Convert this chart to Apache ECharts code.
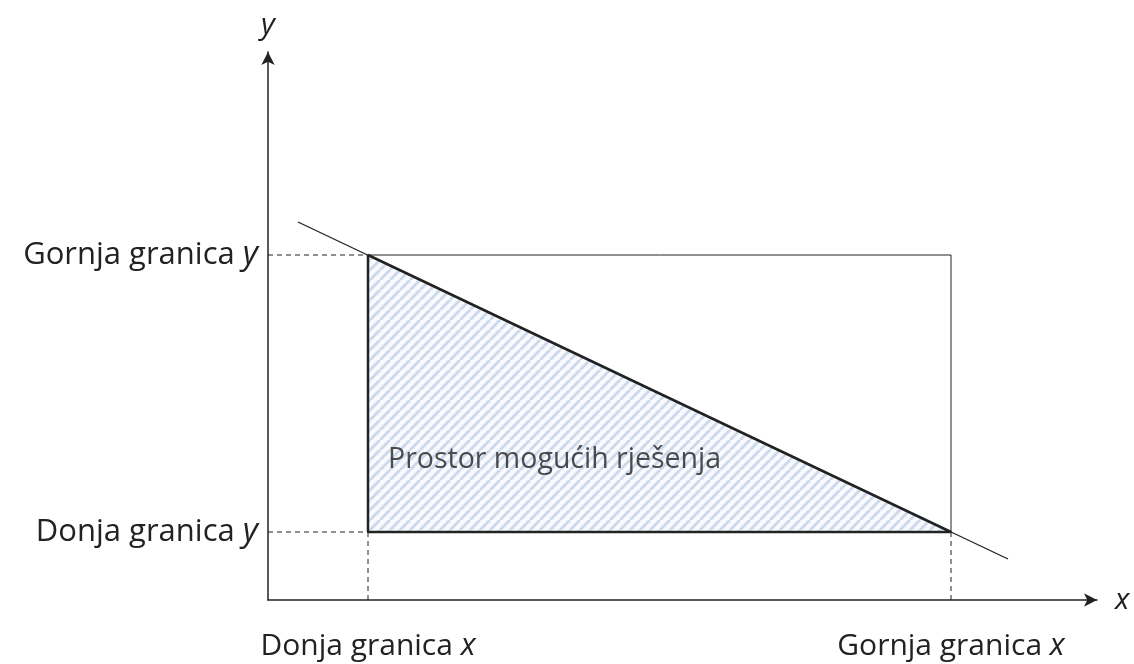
<!DOCTYPE html>
<html>
<head>
<meta charset="utf-8">
<script src="https://cdn.jsdelivr.net/npm/echarts@6/dist/echarts.min.js"></script>
<style>
  html, body { margin: 0; padding: 0; background: #fff; }
  #chart { width: 1134px; height: 664px; }
</style>
</head>
<body>
<div id="chart"></div>
<script>
// granice (u jedinicama osi)
const xBounds = [1.0, 6.83]
const yBounds = [0.68, 3.45]
const xBoundLabels = ['Donja granica', 'Gornja granica']
const yBoundLabels = ['Donja granica', 'Gornja granica']
const axisMax = { x: 8.29, y: 5.48 }
// pravac ograničenja
const constraintLine = [[0.30, 3.78], [7.40, 0.41]]
const regionLabel = 'Prostor mogućih rješenja'
const regionLabelPos = [1.2, 1.4]

const FONT = '"Open Sans", Lato, sans-serif'
const INK = '#222'

// šrafura za prostor rješenja
function makeHatch() {
  const c = document.createElement('canvas')
  c.width = 10; c.height = 10
  const g = c.getContext('2d')
  g.fillStyle = '#f8fafd'
  g.fillRect(0, 0, 10, 10)
  g.strokeStyle = '#ccd9ec'
  g.lineWidth = 3
  for (let k = -10; k <= 20; k += 10) {
    g.beginPath()
    g.moveTo(k, 10)
    g.lineTo(k + 10, 0)
    g.stroke()
  }
  return c
}

const seg = (pts, width, type) => ({
  type: 'line',
  data: pts,
  symbol: 'none',
  silent: true,
  lineStyle: { color: INK, width: width, type: type || 'solid' },
  z: 3
})

const findIdx = (arr, v) => arr.findIndex(a => Math.abs(a - v) < 1e-6)

const chart = echarts.init(document.getElementById('chart'))

const option = {
  animation: false,
  grid: { left: 268, top: 52, width: 829, height: 548, containLabel: false },
  xAxis: {
    type: 'value',
    min: 0,
    max: axisMax.x,
    name: 'x',
    nameLocation: 'end',
    nameGap: 18,
    nameTextStyle: { fontFamily: FONT, fontSize: 30, fontStyle: 'italic', color: INK, verticalAlign: 'middle' },
    splitLine: { show: false },
    axisTick: { show: false },
    axisLine: { onZero: false, symbol: ['none', 'arrow'], symbolSize: [10, 13], lineStyle: { color: INK, width: 1.5 } },
    axisLabel: {
      customValues: xBounds,
      margin: 31,
      fontFamily: FONT,
      fontSize: 30,
      color: INK,
      formatter: v => xBoundLabels[findIdx(xBounds, v)] + ' {i|x}',
      rich: { i: { fontFamily: FONT, fontSize: 31, fontStyle: 'italic', color: INK } }
    }
  },
  yAxis: {
    type: 'value',
    min: 0,
    max: axisMax.y,
    name: 'y',
    nameLocation: 'end',
    nameGap: 12,
    nameTextStyle: { fontFamily: FONT, fontSize: 30, fontStyle: 'italic', color: INK, align: 'center' },
    splitLine: { show: false },
    axisTick: { show: false },
    axisLine: { onZero: false, symbol: ['none', 'arrow'], symbolSize: [10, 13], lineStyle: { color: INK, width: 1.5 } },
    axisLabel: {
      customValues: yBounds,
      margin: 10,
      fontFamily: FONT,
      fontSize: 31,
      color: INK,
      formatter: v => yBoundLabels[findIdx(yBounds, v)] + ' {i|y}',
      rich: { i: { fontFamily: FONT, fontSize: 33, fontStyle: 'italic', color: INK } }
    }
  },
  series: [
    // šrafirani trokut
    {
      type: 'custom',
      silent: true,
      z: 1,
      data: [0],
      renderItem: (params, api) => {
        const pts = [
          api.coord([xBounds[0], yBounds[1]]),
          api.coord([xBounds[0], yBounds[0]]),
          api.coord([xBounds[1], yBounds[0]])
        ]
        return {
          type: 'polygon',
          shape: { points: pts },
          style: { fill: { image: makeHatch(), repeat: 'repeat' } }
        }
      }
    },
    // pravac ograničenja
    seg(constraintLine, 1.3),
    // pravokutnik granica (tanke stranice)
    seg([[xBounds[0], yBounds[1]], [xBounds[1], yBounds[1]], [xBounds[1], yBounds[0]]], 1),
    // rubovi prostora rješenja (debele stranice)
    seg([[xBounds[0], yBounds[1]], [xBounds[0], yBounds[0]], [xBounds[1], yBounds[0]], [xBounds[0], yBounds[1]]], 2.5),
    // isprekidane pomoćne linije
    seg([[0, yBounds[1]], [xBounds[0], yBounds[1]]], 1, [5, 4]),
    seg([[0, yBounds[0]], [xBounds[0], yBounds[0]]], 1, [5, 4]),
    seg([[xBounds[0], 0], [xBounds[0], yBounds[0]]], 1, [5, 4]),
    seg([[xBounds[1], 0], [xBounds[1], yBounds[0]]], 1, [5, 4]),
    // natpis prostora
    {
      type: 'scatter',
      symbolSize: 0,
      silent: true,
      z: 4,
      data: [regionLabelPos],
      label: {
        show: true,
        position: 'right',
        distance: 0,
        formatter: regionLabel,
        fontFamily: FONT,
        fontSize: 28.5,
        color: INK
      }
    }
  ]
}

chart.setOption(option)
</script>
</body>
</html>
